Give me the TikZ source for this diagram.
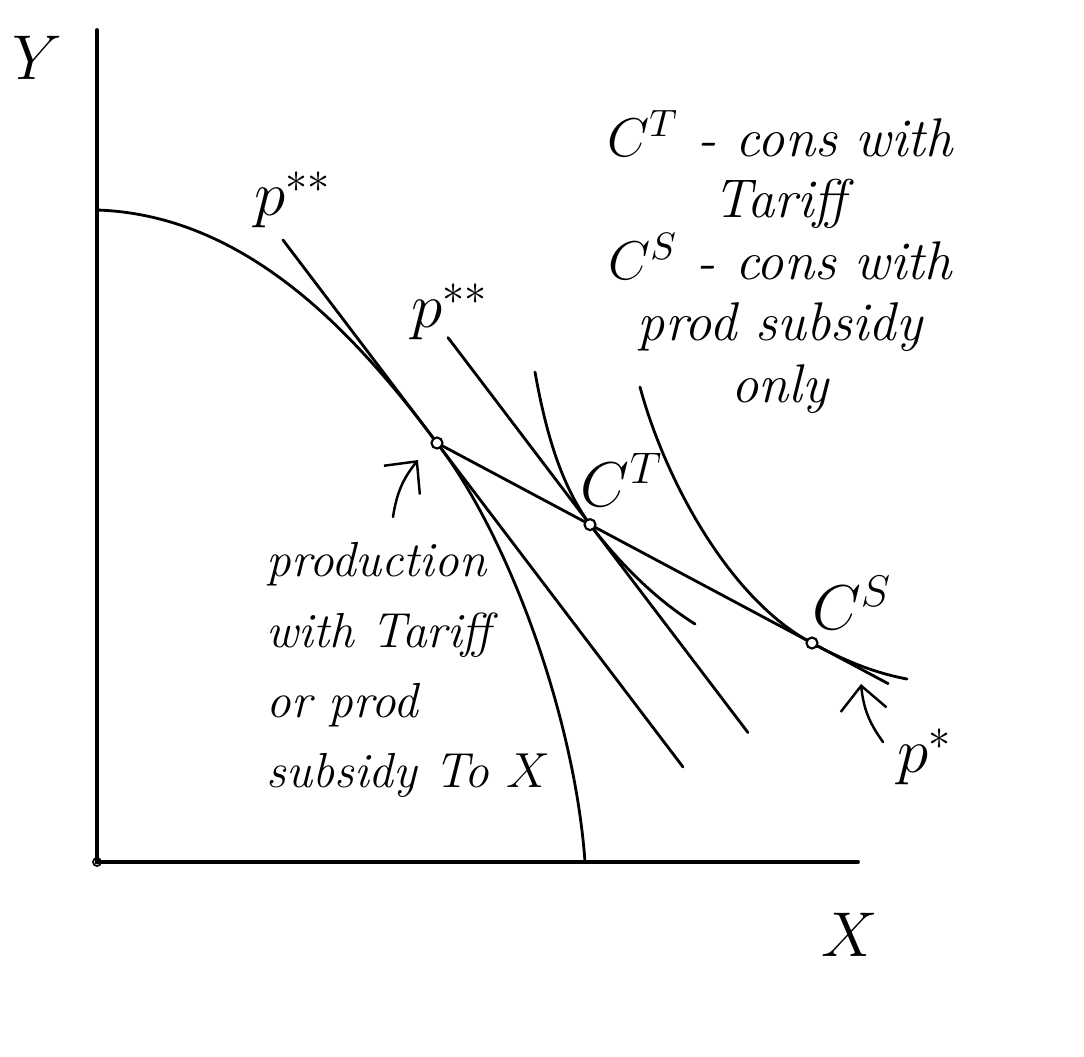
\RequirePackage{fix-cm}
\documentclass[tikz,border=0pt]{standalone}
\usepackage{amsmath}
\usetikzlibrary{arrows.meta,calc}
\tikzset{
  axis/.style   ={line width=1.1pt, line cap=round},
  curve/.style  ={line width=.8pt, line cap=round},
  pt/.style     ={circle, draw, line width=.6pt, fill=white, inner sep=0pt, minimum size=1.1mm},
  hand/.style   ={font=\fontsize{15.5}{17.5}\selectfont\itshape, align=center, inner sep=0pt},
  handl/.style  ={font=\fontsize{14}{20}\selectfont\itshape, align=left, inner sep=0pt},
  lbl/.style    ={font=\fontsize{18}{18}\selectfont, inner sep=0pt},
  harr/.style   ={line width=.7pt, line cap=round, -{Straight Barb[length=2.4mm,width=4.6mm]}},
}

\begin{document}
\begin{tikzpicture}[x=0.01cm,y=-0.01cm]
  \useasboundingbox (0,0) rectangle (1084,1057);

  % axes
  \coordinate (O) at (97,862);
  \coordinate (ytop) at (97,30);
  \coordinate (xend) at (858,862);
  \draw[axis] (ytop) -- (O) -- (xend);
  \node[lbl] (ylab) at (37,58) {$Y$};
  \node[lbl] (xlab) at (850,935) {$X$};
  \draw[line width=.5pt] (O) circle (4);

  % points
  \coordinate (P)  at (437,443);
  \coordinate (CS) at (812,643);
  \coordinate (CT) at ($(P)!0.408!(CS)$);

  % transformation curve
  \draw[curve] (97,210) .. controls (250,215) and (360,340) .. (P)
                        .. controls (510,538) and (575,720) .. (585,862);

  % price lines
  \draw[curve] ($(P)!-0.01!(CS)$) -- ($(P)!1.203!(CS)$);
  \draw[curve] (283,240) -- (P) -- (683,767);
  \draw[curve] ($(CT)+(-142,-187)$) -- (CT) -- ($(CT)+(158,208)$);

  % indifference curves
  \draw[curve] (535,372) .. controls (548,445) and (565,490) .. (CT)
                         .. controls (625,570) and (660,602) .. (695,624);
  \draw[curve] (640,387) .. controls (665,480) and (730,600) .. (CS)
                         .. controls (845,661) and (875,673) .. (907,679);

  \node[pt] (Pc)  at (P)  {};
  \node[pt] (CTc) at (CT) {};
  \node[pt] (CSc) at (CS) {};

  % labels
  \node[lbl] (ct)  at (622,480) {$C^T$};
  \node[lbl] (cs)  at (852,603) {$C^S$};
  \node[lbl] (pss1) at (293,200) {$p^{**}$};
  \node[lbl] (pss2) at (450,312) {$p^{**}$};
  \node[lbl] (ps)  at (925,757) {$p^{*}$};

  \node[hand] (note) at (780,262)
  {$C^T$ - cons with\\Tariff\\$C^S$ - cons with\\prod subsidy\\only};

  \node[handl,anchor=north west] (prod) at (266,542)
  {production\\with Tariff\\or prod\\subsidy To $X$};

  % arrows
  \coordinate (a1) at (393,517);
  \coordinate (a1t) at (418,460);
  \draw[harr] (a1) to[bend left=15] (a1t);
  \coordinate (a2) at (883,742);
  \coordinate (a2t) at (861,684);
  \draw[harr] (a2) to[bend left=15] (a2t);
\end{tikzpicture}
\end{document}
